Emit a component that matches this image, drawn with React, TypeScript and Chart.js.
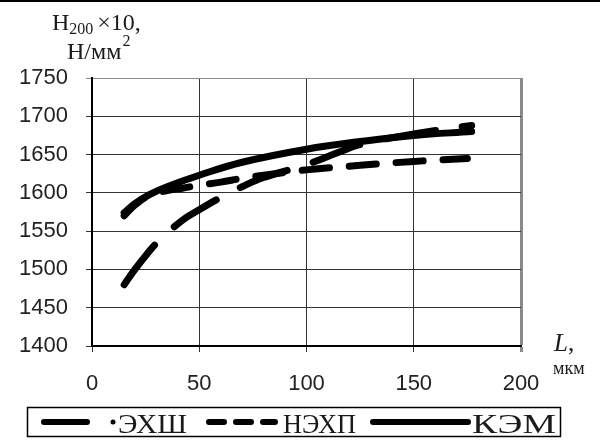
import React, { useEffect, useRef } from "react";
import { Chart, registerables } from "chart.js";

Chart.register(...registerables);

// ---- data ----
const seriesNames = ["ЭХШ", "НЭХП", "КЭМ"];

const ehshL = [15, 20, 25, 31, 42, 50, 60, 70, 80, 100, 115, 125, 150, 177];
const ehshH = [1480, 1500, 1518, 1537, 1564, 1578, 1594, 1608, 1620, 1637, 1653, 1663, 1677, 1688];

const nehpL = [15, 20, 27, 35, 42, 50, 60, 70, 80, 100, 125, 150, 175];
const nehpH = [1570, 1584, 1597, 1603, 1606, 1610, 1614, 1619, 1623, 1630, 1636, 1641, 1645];

const kemL = [15, 20, 27, 35, 50, 70, 100, 125, 150, 177];
const kemH = [1574, 1586, 1598, 1608, 1623, 1640, 1657, 1667, 1675, 1680];

const xTickValues = [0, 50, 100, 150, 200];
const yTickValues = [1400, 1450, 1500, 1550, 1600, 1650, 1700, 1750];

const toPoints = (xs: number[], ys: number[]) => xs.map((x, i) => ({ x, y: ys[i] }));

const SERIF = "'Liberation Serif', 'Times New Roman', serif";
const SANS = "'Liberation Sans', Arial, sans-serif";

function fillStretched(ctx: CanvasRenderingContext2D, text: string, x0: number, x1: number, y: number) {
  const w = ctx.measureText(text).width;
  const sx = (x1 - x0) / w;
  ctx.save();
  ctx.translate(x0, y);
  ctx.scale(sx, 1);
  ctx.fillText(text, 0, 0);
  ctx.restore();
}

const decorPlugin = {
  id: "decor",
  afterDraw(chart: any) {
    const ctx = chart.ctx as CanvasRenderingContext2D;
    ctx.save();
    // top rule of figure
    ctx.strokeStyle = "#000";
    ctx.lineWidth = 2;
    ctx.setLineDash([]);
    ctx.beginPath();
    ctx.moveTo(0, 1);
    ctx.lineTo(600, 1);
    ctx.stroke();

    ctx.fillStyle = "#1a1a1a";
    ctx.textBaseline = "alphabetic";
    ctx.textAlign = "left";
    // Y title line 1: H200 ×10,
    let x = 52;
    ctx.font = `24px ${SERIF}`;
    ctx.fillText("H", x, 30);
    x += ctx.measureText("H").width;
    ctx.font = `16px ${SERIF}`;
    ctx.fillText("200", x, 34);
    x += ctx.measureText("200").width + 4;
    ctx.font = `24px ${SERIF}`;
    ctx.fillText("×10,", x, 30);
    // line 2: Н/мм²
    x = 67;
    ctx.fillText("Н/мм", x, 59);
    x += ctx.measureText("Н/мм").width + 1;
    ctx.font = `16px ${SERIF}`;
    ctx.fillText("2", x, 46);

    // X axis title
    ctx.font = `italic 25px ${SERIF}`;
    ctx.fillText("L", 554, 351);
    const lw = ctx.measureText("L").width;
    ctx.font = `25px ${SERIF}`;
    ctx.fillText(",", 554 + lw, 351);
    ctx.font = `18px ${SERIF}`;
    ctx.fillText("мкм", 553, 374);

    // Legend box
    ctx.strokeStyle = "#000";
    ctx.lineWidth = 1.5;
    ctx.strokeRect(27.5, 407.5, 533, 29);

    const ly = 422;
    ctx.lineCap = "round";
    ctx.lineWidth = 6;
    // ЭХШ sample: long dash + dot
    ctx.setLineDash([]);
    ctx.beginPath();
    ctx.moveTo(44, ly);
    ctx.lineTo(87, ly);
    ctx.stroke();
    ctx.beginPath();
    ctx.arc(113, ly, 2.5, 0, Math.PI * 2);
    ctx.fillStyle = "#000";
    ctx.fill();
    // НЭХП sample: dashes
    ctx.setLineDash([15, 12]);
    ctx.beginPath();
    ctx.moveTo(209, ly);
    ctx.lineTo(275, ly);
    ctx.stroke();
    // КЭМ sample: solid
    ctx.setLineDash([]);
    ctx.beginPath();
    ctx.moveTo(373, ly);
    ctx.lineTo(468, ly);
    ctx.stroke();

    ctx.fillStyle = "#1a1a1a";
    ctx.font = `28px ${SERIF}`;
    fillStretched(ctx, seriesNames[0], 118, 187, 433);
    fillStretched(ctx, seriesNames[1], 283, 356, 433);
    fillStretched(ctx, seriesNames[2], 472, 556, 433);
    ctx.restore();
  },
};

export default function App() {
  const ref = useRef<HTMLCanvasElement>(null);

  useEffect(() => {
    if (!ref.current) return;
    const lineCommon = {
      borderColor: "#000",
      backgroundColor: "#000",
      pointRadius: 0,
      fill: false,
      tension: 0.4,
      borderCapStyle: "round" as const,
      borderJoinStyle: "round" as const,
    };
    const chart = new Chart(ref.current, {
      type: "line",
      data: {
        datasets: [
          {
            ...lineCommon,
            label: seriesNames[0],
            data: toPoints(ehshL, ehshH),
            borderWidth: 7,
            borderDash: [50, 27],
          },
          {
            ...lineCommon,
            label: seriesNames[1],
            data: toPoints(nehpL, nehpH),
            borderWidth: 7,
            borderDash: [27, 20],
          },
          {
            ...lineCommon,
            label: seriesNames[2],
            data: toPoints(kemL, kemH),
            borderWidth: 7,
          },
        ],
      },
      options: {
        responsive: false,
        animation: false,
        devicePixelRatio: 1,
        layout: { padding: { top: 78, right: 79, left: 0, bottom: 0 } },
        plugins: {
          legend: { display: false },
          tooltip: { enabled: false },
          title: { display: false },
        },
        scales: {
          x: {
            type: "linear",
            min: 0,
            max: 200,
            afterFit: (s: any) => {
              s.height = 95;
            },
            afterBuildTicks: (s: any) => {
              s.ticks = xTickValues.map((v) => ({ value: v }));
            },
            ticks: {
              padding: 19,
              font: { family: SANS, size: 22 },
              color: "#222",
              maxRotation: 0,
              callback: (v: any) => String(v),
            },
            grid: {
              color: (c: any) => (c.tick && c.tick.value === 200 ? "#8a8a8a" : "#333"),
              lineWidth: (c: any) => (c.tick && c.tick.value === 200 ? 3 : 1),
              tickLength: 6,
              drawTicks: true,
            },
            border: { color: "#000", width: 2 },
          },
          y: {
            type: "linear",
            min: 1400,
            max: 1750,
            afterFit: (s: any) => {
              s.width = 92;
            },
            afterBuildTicks: (s: any) => {
              s.ticks = yTickValues.map((v) => ({ value: v }));
            },
            ticks: {
              padding: 18,
              font: { family: SANS, size: 22 },
              color: "#222",
              callback: (v: any) => String(v),
            },
            grid: {
              color: (c: any) => (c.tick && c.tick.value === 1750 ? "#8a8a8a" : "#333"),
              lineWidth: 1,
              tickLength: 6,
              drawTicks: true,
            },
            border: { color: "#000", width: 2 },
          },
        },
      },
      plugins: [decorPlugin],
    });
    return () => chart.destroy();
  }, []);

  return (
    <div style={{ position: "absolute", left: 0, top: 0, width: 600, height: 441, background: "#fff" }}>
      <canvas ref={ref} width={600} height={441} style={{ width: 600, height: 441 }} />
    </div>
  );
}
